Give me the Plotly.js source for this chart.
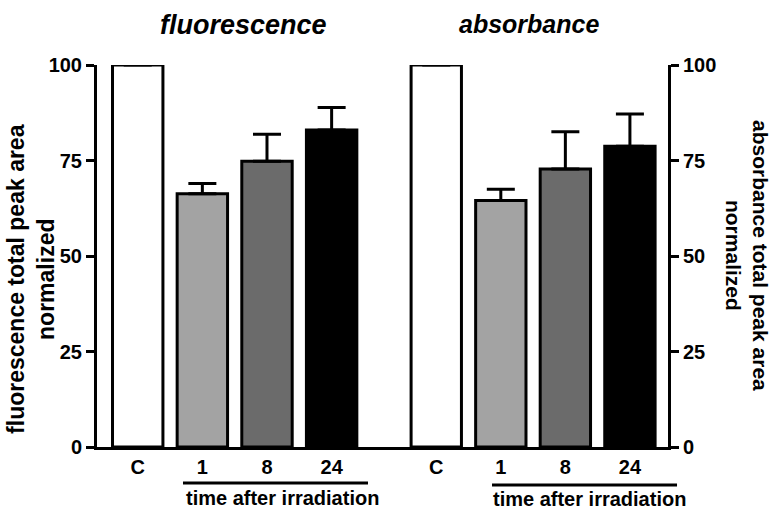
<!DOCTYPE html>
<html>
<head>
<meta charset="utf-8">
<script src="https://cdn.plot.ly/plotly-3.0.1.min.js"></script>
<style>html,body{margin:0;padding:0;background:#fff;}#chart{width:774px;height:510px;}</style>
</head>
<body>
<div id="chart"></div>
<script>
const categories = ['C', '1', '8', '24'];
const fluorescence = [100, 66.3, 74.8, 83.0];
const fluorescenceErr = [0, 2.7, 7.1, 5.9];
const absorbance = [100, 64.5, 72.8, 78.7];
const absorbanceErr = [0, 3.0, 9.7, 8.5];
const barColors = ['#ffffff', '#a3a3a3', '#6b6b6b', '#000000'];
const yTicks = [0, 25, 50, 75, 100];
const panelTitles = ['fluorescence', 'absorbance'];
const yTitles = ['fluorescence total peak area<br>normalized', 'absorbance total peak area<br>normalized'];
const groupLabel = 'time after irradiation';

const FONT = 'Liberation Sans, Arial, Helvetica, sans-serif';
const noMinus = categories.map(() => 0);

function barTrace(vals, errs, xa, ya) {
  return {
    type: 'bar', x: categories, y: vals, xaxis: xa, yaxis: ya,
    marker: {color: barColors, line: {color: '#000', width: 3}},
    error_y: {type: 'data', array: errs, arrayminus: noMinus, symmetric: false,
              color: '#000', thickness: 3, width: 14},
    hoverinfo: 'x+y', showlegend: false
  };
}

const data = [
  barTrace(fluorescence, fluorescenceErr, 'x', 'y'),
  barTrace(absorbance, absorbanceErr, 'x2', 'y2')
];

const tickFont = {family: FONT, size: 20, color: '#000', weight: 'bold'};
const split = 0.5026;

function xAxis(domain, range) {
  return {domain: domain, type: 'category', range: range, showline: true, linewidth: 3,
          linecolor: '#000', ticks: '', showgrid: false, zeroline: false, tickfont: tickFont,
          fixedrange: true};
}
function yAxis(anchor, side) {
  return {anchor: anchor, side: side, range: [0, 100], tickvals: yTicks, ticks: 'outside',
          ticklen: 8, tickwidth: 3, tickcolor: '#000', showline: true, linewidth: 3,
          linecolor: '#000', showgrid: false, zeroline: false, tickfont: tickFont, fixedrange: true};
}

const annFont = (size, extra) => Object.assign({family: FONT, size: size, color: '#000', weight: 'bold'}, extra || {});

const layout = {
  width: 774, height: 510,
  margin: {l: 97, r: 106, t: 65, b: 63},
  paper_bgcolor: '#fff', plot_bgcolor: '#fff',
  bargap: 0.22,
  xaxis: xAxis([0, split], [-0.63, 3.81]),
  xaxis2: xAxis([split, 1], [-0.81, 3.59]),
  yaxis: yAxis('x', 'left'),
  yaxis2: yAxis('x2', 'right'),
  annotations: [
    {text: panelTitles[0], xref: 'paper', yref: 'paper', x: 0.2574, y: 1.105, xanchor: 'center', yanchor: 'middle', showarrow: false, font: annFont(27, {style: 'italic'})},
    {text: panelTitles[1], xref: 'paper', yref: 'paper', x: 0.7566, y: 1.107, xanchor: 'center', yanchor: 'middle', showarrow: false, font: annFont(25, {style: 'italic'})},
    {text: yTitles[0], xref: 'paper', yref: 'paper', x: -0.1156, y: 0.44, xanchor: 'center', yanchor: 'middle', textangle: -90, showarrow: false, font: annFont(23)},
    {text: yTitles[1], xref: 'paper', yref: 'paper', x: 1.1384, y: 0.5026, xanchor: 'center', yanchor: 'middle', textangle: 90, showarrow: false, font: annFont(21)},
    {text: groupLabel, xref: 'paper', yref: 'paper', x: 0.3257, y: -0.1335, xanchor: 'center', yanchor: 'middle', borderpad: 0, showarrow: false, font: annFont(20)},
    {text: groupLabel, xref: 'paper', yref: 'paper', x: 0.8617, y: -0.1361, xanchor: 'center', yanchor: 'middle', borderpad: 0, showarrow: false, font: annFont(20)}
  ],
  shapes: [
    {type: 'line', xref: 'paper', yref: 'paper', x0: 0.1506, x1: 0.4746, y0: -0.0943, y1: -0.0943, line: {color: '#000', width: 3}},
    {type: 'line', xref: 'paper', yref: 'paper', x0: 0.6918, x1: 1.0158, y0: -0.0995, y1: -0.0995, line: {color: '#000', width: 3}}
  ]
};

Plotly.newPlot('chart', data, layout, {displayModeBar: false, staticPlot: true});
</script>
</body>
</html>
